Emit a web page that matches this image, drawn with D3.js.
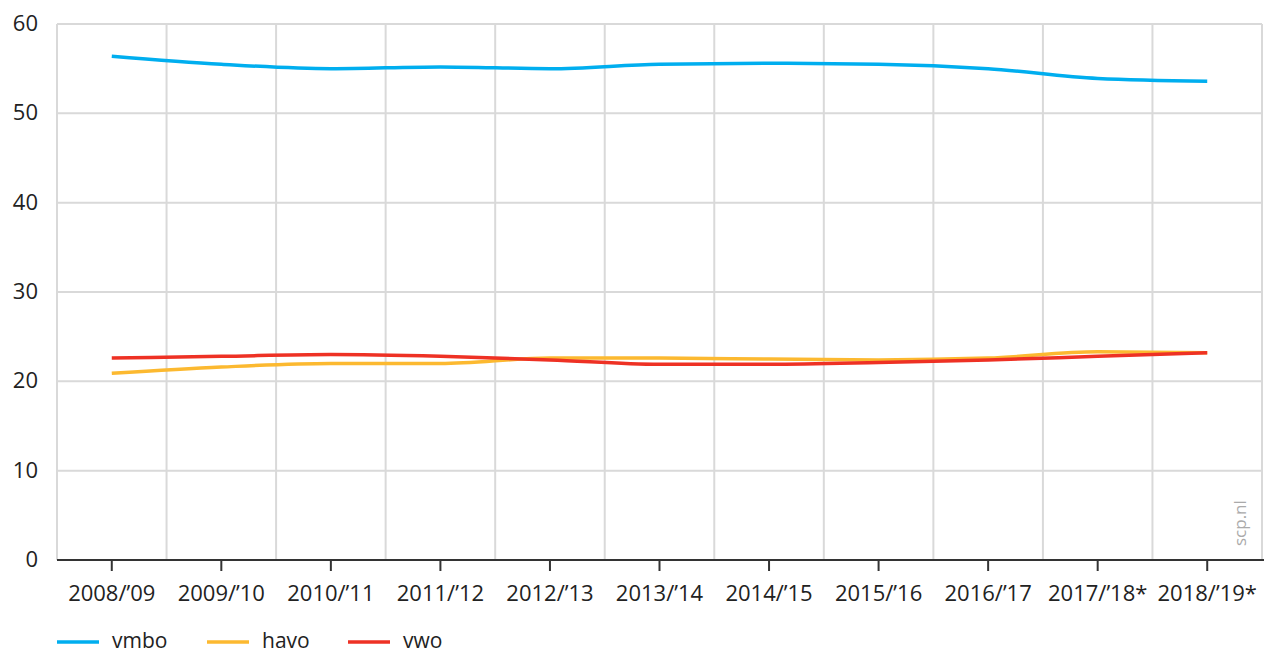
<!DOCTYPE html>
<html>
<head>
<meta charset="utf-8">
<script src="https://cdn.jsdelivr.net/npm/d3@7"></script>
<style>
  body { margin: 0; background: #fff; }
  svg text { font-family: "Open Sans", "Noto Sans", sans-serif; fill: #222; }
</style>
</head>
<body>
<svg id="chart" width="1268" height="654"></svg>
<script>
// schooljaren
const years = ["2008/\u201909", "2009/\u201910", "2010/\u201911", "2011/\u201912", "2012/\u201913", "2013/\u201914",
  "2014/\u201915", "2015/\u201916", "2016/\u201917", "2017/\u201918*", "2018/\u201919*"];

const vmbo = [56.4, 55.5, 55.0, 55.2, 55.0, 55.5, 55.6, 55.5, 55.0, 53.9, 53.6];
const havo = [20.9, 21.6, 22.0, 22.0, 22.6, 22.6, 22.5, 22.4, 22.6, 23.3, 23.2];
const vwo  = [22.6, 22.8, 23.0, 22.8, 22.4, 21.9, 21.9, 22.1, 22.4, 22.8, 23.2];

const seriesNames = ["vmbo", "havo", "vwo"];
const yTicks = [0, 10, 20, 30, 40, 50, 60];

const colors = { vmbo: "#00aeef", havo: "#fcb930", vwo: "#ee3124" };
const seriesData = { vmbo, havo, vwo };

const svg = d3.select("#chart");
const mLeft = 57, mRight = 1262, mTop = 24, mBottom = 560;

const x = d3.scaleBand().domain(years).range([mLeft, mRight]);
const y = d3.scaleLinear().domain([0, 60]).range([mBottom, mTop]);

// raster
const grid = svg.append("g");
grid.selectAll("line.h")
  .data(yTicks.filter(d => d > 0))
  .join("line")
  .attr("x1", mLeft).attr("x2", mRight)
  .attr("y1", d => y(d)).attr("y2", d => y(d))
  .attr("stroke", "#d9d9d9").attr("stroke-width", 2);

// verticale lijnen op de grenzen van de banden
const bounds = years.map(d => x(d)).concat([mRight]);
grid.selectAll("line.v")
  .data(bounds)
  .join("line")
  .attr("x1", d => d).attr("x2", d => d)
  .attr("y1", mTop).attr("y2", mBottom)
  .attr("stroke", "#d9d9d9").attr("stroke-width", 2);

// y labels
svg.append("g")
  .selectAll("text")
  .data(yTicks)
  .join("text")
  .attr("x", 38)
  .attr("y", d => y(d) + 7)
  .attr("text-anchor", "end")
  .attr("font-size", 22)
  .text(d => d);

// x as
const xAxis = svg.append("g")
  .attr("transform", `translate(0,${mBottom})`)
  .call(d3.axisBottom(x).tickSize(11).tickPadding(14).tickSizeOuter(0));
xAxis.select(".domain").attr("stroke", "#333").attr("stroke-width", 2)
  .attr("d", `M${mLeft},0H${mRight + 2}`);
xAxis.selectAll(".tick line").attr("stroke", "#333").attr("stroke-width", 2);
xAxis.selectAll(".tick text")
  .attr("font-size", 22)
  .attr("font-family", "'Open Sans', 'Noto Sans', sans-serif")
  .attr("fill", "#222");

// lijnen
const line = d3.line()
  .x((d, i) => x(years[i]) + x.bandwidth() / 2)
  .y(d => y(d))
  .curve(d3.curveMonotoneX);

seriesNames.forEach(name => {
  svg.append("path")
    .datum(seriesData[name])
    .attr("fill", "none")
    .attr("stroke", colors[name])
    .attr("stroke-width", 3.5)
    .attr("stroke-linejoin", "round")
    .attr("d", line);
});

// bron
svg.append("text")
  .attr("transform", "translate(1246,546) rotate(-90)")
  .attr("font-size", 17)
  .style("fill", "#aaa")
  .text("scp.nl");

// legenda
const legendX = [57, 207, 348];
const legend = svg.append("g");
seriesNames.forEach((name, i) => {
  const g = legend.append("g").attr("transform", `translate(${legendX[i]},642)`);
  g.append("line")
    .attr("x1", 0).attr("x2", 42)
    .attr("stroke", colors[name]).attr("stroke-width", 3.5);
  g.append("text")
    .attr("x", 55).attr("y", 6)
    .attr("font-size", 21)
    .text(name);
});
</script>
</body>
</html>
